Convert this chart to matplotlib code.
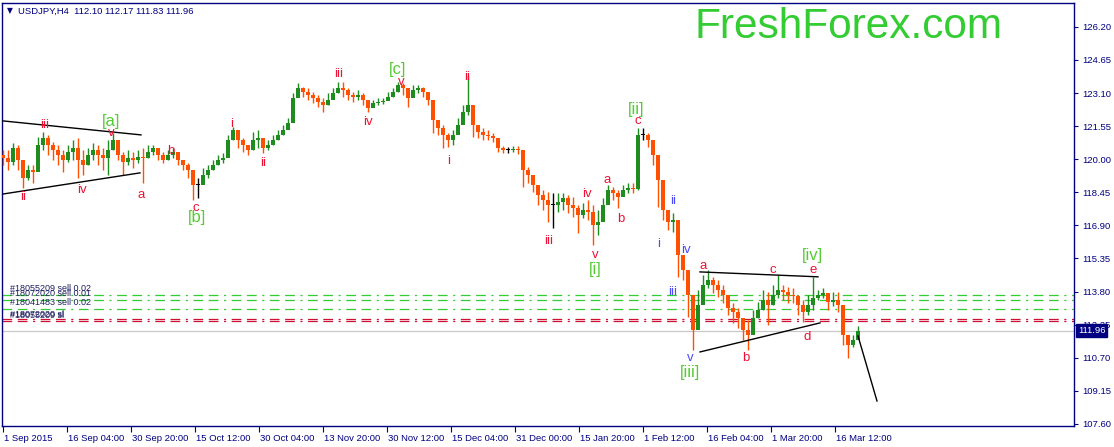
import numpy as np
import matplotlib
matplotlib.use('Agg')
import matplotlib.pyplot as plt
from matplotlib.transforms import blended_transform_factory

plt.rcParams['font.family'] = ['Liberation Sans', 'DejaVu Sans']
plt.rcParams['lines.scale_dashes'] = False

# USDJPY H4, one candle per 5 bars
first_open = 120.20
closes = [120.06, 119.87, 120.53, 119.97, 119.12, 119.50, 119.41, 120.67, 121.00, 120.67,
          120.44, 120.20, 119.97, 120.34, 120.53, 119.97, 119.73, 120.20, 120.44, 120.20,
          120.06, 120.44, 120.90, 120.20, 119.87, 120.06, 119.97, 120.11, 120.06, 120.34,
          120.53, 120.20, 119.97, 120.20, 120.34, 119.97, 119.73, 119.50, 118.80, 118.80,
          119.26, 119.50, 119.73, 119.97, 120.06, 120.90, 121.37, 120.90, 120.67, 120.44,
          120.90, 121.00, 120.53, 120.67, 120.90, 121.14, 121.37, 121.70, 122.87, 123.34,
          123.15, 123.01, 122.87, 122.69, 122.54, 122.78, 123.11, 123.34, 123.25, 123.01,
          122.92, 123.01, 122.78, 122.40, 122.64, 122.69, 122.73, 122.92, 123.15, 123.48,
          123.34, 122.87, 123.25, 123.34, 123.15, 122.78, 121.84, 121.47, 121.14, 120.90,
          121.14, 121.61, 122.22, 122.54, 121.61, 121.28, 121.14, 121.09, 121.00, 120.53,
          120.44, 120.44, 120.48, 120.44, 119.50, 119.26, 118.80, 118.33, 118.09, 117.86,
          117.86, 118.00, 118.19, 117.86, 117.72, 117.39, 117.62, 117.53, 116.92, 117.06,
          117.86, 118.56, 118.42, 118.23, 118.56, 118.66, 118.61, 121.14, 121.14, 120.90,
          120.20, 119.03, 117.62, 117.06, 117.16, 115.52, 114.81, 113.64, 112.00, 113.17,
          114.11, 114.34, 114.11, 113.88, 113.64, 113.03, 112.84, 112.56, 112.00, 111.77,
          112.56, 112.94, 113.41, 113.17, 113.64, 113.88, 113.78, 113.64, 113.59, 113.17,
          112.84, 113.17, 113.50, 113.64, 113.74, 113.31, 113.41, 113.17, 111.77, 111.30,
          111.53, 111.96]
highs = [120.44, 120.44, 120.76, 120.67, 119.73, 119.73, 119.73, 121.05, 121.28, 121.14,
         120.81, 120.67, 120.44, 120.67, 120.90, 121.00, 120.44, 120.53, 120.76, 120.67,
         120.53, 120.90, 121.23, 120.67, 120.34, 120.44, 120.34, 120.44, 120.53, 120.67,
         120.67, 120.53, 120.34, 120.44, 120.53, 120.20, 119.97, 119.83, 119.26, 119.12,
         119.59, 119.73, 119.97, 120.20, 120.30, 121.14, 121.51, 121.23, 121.00, 120.67,
         121.28, 121.37, 120.90, 120.90, 121.14, 121.37, 121.61, 121.94, 123.11, 123.58,
         123.39, 123.34, 123.15, 123.01, 122.87, 123.11, 123.34, 123.62, 123.62, 123.34,
         123.15, 123.25, 123.11, 122.64, 122.78, 122.87, 122.87, 123.15, 123.34, 123.62,
         123.58, 123.25, 123.48, 123.48, 123.39, 123.01, 122.54, 121.84, 121.61, 121.23,
         121.37, 121.94, 122.54, 123.95, 121.94, 121.61, 121.47, 121.37, 121.23, 120.76,
         120.62, 120.58, 120.62, 120.62, 119.97, 119.64, 119.26, 118.80, 118.56, 118.47,
         118.42, 118.42, 118.42, 118.33, 118.23, 117.86, 117.95, 118.09, 117.86, 117.62,
         118.19, 118.80, 118.70, 118.56, 118.80, 118.89, 118.89, 121.47, 121.47, 121.23,
         120.58, 119.50, 118.09, 117.48, 117.48, 116.45, 115.28, 114.44, 113.08, 113.88,
         114.58, 114.81, 114.49, 114.34, 114.11, 113.41, 113.27, 113.03, 112.56, 112.47,
         112.94, 113.31, 113.88, 113.78, 114.11, 114.58, 114.11, 114.02, 113.97, 113.64,
         113.41, 113.64, 114.49, 113.88, 113.97, 113.64, 113.78, 113.78, 112.47, 111.63,
         111.77, 112.17]
lows = [119.73, 119.50, 119.73, 119.50, 118.66, 119.03, 118.89, 119.97, 120.44, 120.20,
        119.97, 119.73, 119.41, 119.87, 119.97, 119.12, 119.26, 119.73, 119.97, 119.73,
        119.50, 119.26, 120.44, 119.97, 119.26, 119.73, 119.59, 119.83, 118.89, 120.06,
        120.20, 119.97, 119.83, 119.97, 120.06, 119.73, 119.50, 119.12, 118.09, 118.19,
        118.94, 119.12, 119.50, 119.73, 119.83, 120.44, 120.90, 120.53, 120.34, 120.20,
        120.44, 120.53, 120.30, 120.44, 120.67, 120.90, 121.14, 121.47, 121.84, 123.01,
        122.92, 122.78, 122.64, 122.45, 122.22, 122.54, 122.87, 123.11, 122.92, 122.78,
        122.69, 122.78, 122.54, 122.22, 122.45, 122.54, 122.59, 122.78, 122.92, 123.15,
        123.01, 122.45, 123.01, 123.11, 122.92, 122.54, 121.23, 121.14, 120.53, 120.58,
        120.67, 121.28, 121.84, 122.08, 121.05, 121.00, 120.90, 120.90, 120.81, 120.34,
        120.30, 120.30, 120.34, 120.25, 118.70, 118.89, 118.47, 117.86, 117.62, 117.06,
        116.78, 117.53, 117.62, 117.48, 117.30, 116.55, 117.25, 117.16, 115.98, 116.45,
        117.39, 118.19, 118.09, 117.72, 118.33, 118.42, 118.42, 118.56, 120.90, 120.58,
        119.73, 117.77, 117.16, 116.69, 116.59, 114.49, 114.34, 112.61, 111.06, 112.24,
        113.64, 113.97, 113.74, 113.55, 113.27, 112.70, 112.33, 112.09, 111.53, 111.06,
        112.09, 112.56, 112.94, 112.24, 113.17, 113.50, 113.41, 113.27, 113.27, 112.70,
        112.38, 112.70, 112.94, 113.41, 113.50, 112.94, 113.13, 112.84, 111.30, 110.69,
        111.20, 111.83]
bar_step = 5

date_labels = ['1 Sep 2015', '16 Sep 04:00', '30 Sep 20:00', '15 Oct 12:00', '30 Oct 04:00',
               '13 Nov 20:00', '30 Nov 12:00', '15 Dec 04:00', '31 Dec 00:00', '15 Jan 20:00',
               '1 Feb 12:00', '16 Feb 04:00', '1 Mar 20:00', '16 Mar 12:00']
bars_per_label = 64
price_ticks = [107.60, 109.15, 110.70, 112.25, 113.80, 115.35, 116.90,
               118.45, 120.00, 121.55, 123.10, 124.65, 126.20]

sell_levels = [113.64, 113.41, 112.99]
sl_levels = [112.52, 112.42]
bid = 111.96
order_texts = [('#18055209 sell 0.02', 113.92), ('#18072020 sell 0.01', 113.72),
               ('#18041483 sell 0.02', 113.27), ('#18072020 sl', 112.74),
               ('#18055209 sl', 112.68)]

# (bar, price) end points of the drawn lines
trend_lines = [((-1, 121.80), (138, 121.14)), ((0, 118.37), (137, 119.36)),
               ((697, 114.72), (815, 114.49)), ((697, 110.97), (817, 112.33)),
               ((855, 111.72), (874, 108.67))]

wave_red = [('ii', 20, 118.23), ('iii', 42, 121.61), ('iv', 79, 118.56), ('v', 108, 121.23),
            ('a', 138, 118.33), ('b', 168, 120.39), ('c', 193, 117.72), ('i', 229, 121.65),
            ('ii', 260, 119.83), ('iii', 336, 124.00), ('iv', 365, 121.75), ('v', 398, 123.62),
            ('ii', 464, 123.86), ('i', 446, 119.92), ('iii', 546, 116.17), ('iv', 584, 118.37),
            ('v', 592, 115.52), ('a', 604, 119.03), ('b', 618, 117.20), ('c', 635, 121.80),
            ('a', 700, 115.00), ('b', 743, 110.69), ('c', 770, 114.81), ('d', 804, 111.67),
            ('e', 810, 114.81)]
wave_blue = [('ii', 670, 118.05), ('i', 656, 116.03), ('iv', 683, 115.75),
             ('iii', 670, 113.78), ('v', 687, 110.69)]
wave_green = [('[a]', 108, 121.75), ('[b]', 194, 117.25), ('[c]', 395, 124.19),
              ('[i]', 592, 114.81), ('[ii]', 633, 122.31), ('[iii]', 687, 110.03),
              ('[iv]', 809, 115.47)]

navy = '#000080'
up_col = '#1e8c1e'
down_col = '#ff4f00'

fig = plt.figure(figsize=(11.14, 4.47), dpi=100)
ax = fig.add_axes([2 / 1114, 21 / 447, 1072 / 1114, 423 / 447])
ax.set_xlim(-1, 1071)
ax.set_ylim(107.50, 127.32)

closes = np.array(closes)
opens = np.concatenate([[first_open], closes[:-1]])
xs = np.arange(len(closes)) * bar_step
cols = np.where(closes > opens, up_col, np.where(closes < opens, down_col, 'black'))
ax.vlines(xs, lows, highs, colors=cols, lw=1.0, zorder=3)
body = np.where(np.abs(closes - opens) < 0.03, 0.03, closes - opens)
ax.bar(xs, body, bottom=opens, width=4.2, color=cols, linewidth=0, zorder=3)

for a, b in trend_lines:
    ax.plot([a[0], b[0]], [a[1], b[1]], color='black', lw=1.0, zorder=4)

for lvl in sell_levels:
    ax.axhline(lvl, color='#33cc33', lw=0.9, dashes=(7, 4, 7, 4, 1.5, 4), zorder=2)
for lvl in sl_levels:
    ax.axhline(lvl, color='#cc1133', lw=0.9, dashes=(7, 4, 7, 4, 1.5, 4), zorder=2)
ax.axhline(bid, color='#c8c8c8', lw=0.9, zorder=1)

for txt, p in order_texts:
    ax.text(7, p, txt, color='#202060', fontsize=6.5, va='center', ha='left', zorder=5)

for txt, bx, p in wave_red:
    ax.text(bx, p, txt, color='#ee1133', fontsize=9.5, ha='center', va='center', zorder=6)
for txt, bx, p in wave_blue:
    ax.text(bx, p, txt, color='#4a4aff', fontsize=9.5, ha='center', va='center', zorder=6)
for txt, bx, p in wave_green:
    ax.text(bx, p, txt, color='#55cc33', fontsize=12, ha='center', va='center', zorder=6)

# axes look
for s in ax.spines.values():
    s.set_color(navy)
    s.set_linewidth(1.0)
ax.yaxis.tick_right()
ax.set_yticks(price_ticks)
ax.set_yticklabels([f'{p:.2f}' for p in price_ticks])
ax.tick_params(axis='y', direction='out', length=3, width=0.8, color=navy,
               labelcolor=navy, labelsize=6.8, pad=3)
ax.set_xticks(np.arange(len(date_labels)) * bars_per_label)
ax.set_xticklabels(date_labels, ha='left')
ax.tick_params(axis='x', direction='out', length=4, width=0.8, color=navy,
               labelcolor=navy, labelsize=6.8, pad=2)
off = matplotlib.transforms.ScaledTranslation(1.5 / 100, 0, fig.dpi_scale_trans)
for lab in ax.get_xticklabels():
    lab.set_transform(lab.get_transform() + off)

tr = blended_transform_factory(ax.transAxes, ax.transData)
ax.text(1 + 4 / 1072, bid, f'{bid:.2f}', transform=tr, color='white', fontsize=6.8,
        va='center', ha='left', zorder=7,
        bbox=dict(boxstyle='square,pad=0.2', fc=navy, ec=navy))

fig.text(7 / 1114, 1 - 11 / 447, '\u25bc', color=navy, fontsize=5.5,
         family='DejaVu Sans', va='center', ha='left')
fig.text(18 / 1114, 1 - 11 / 447, 'USDJPY,H4  112.10 112.17 111.83 111.96', color=navy,
         fontsize=6.8, va='center', ha='left')
fig.text(694 / 1114, 1 - 38 / 447, 'FreshForex.com', color='#33cc33', fontsize=30.5,
         va='baseline', ha='left')

fig.savefig('out.png', dpi=100)
